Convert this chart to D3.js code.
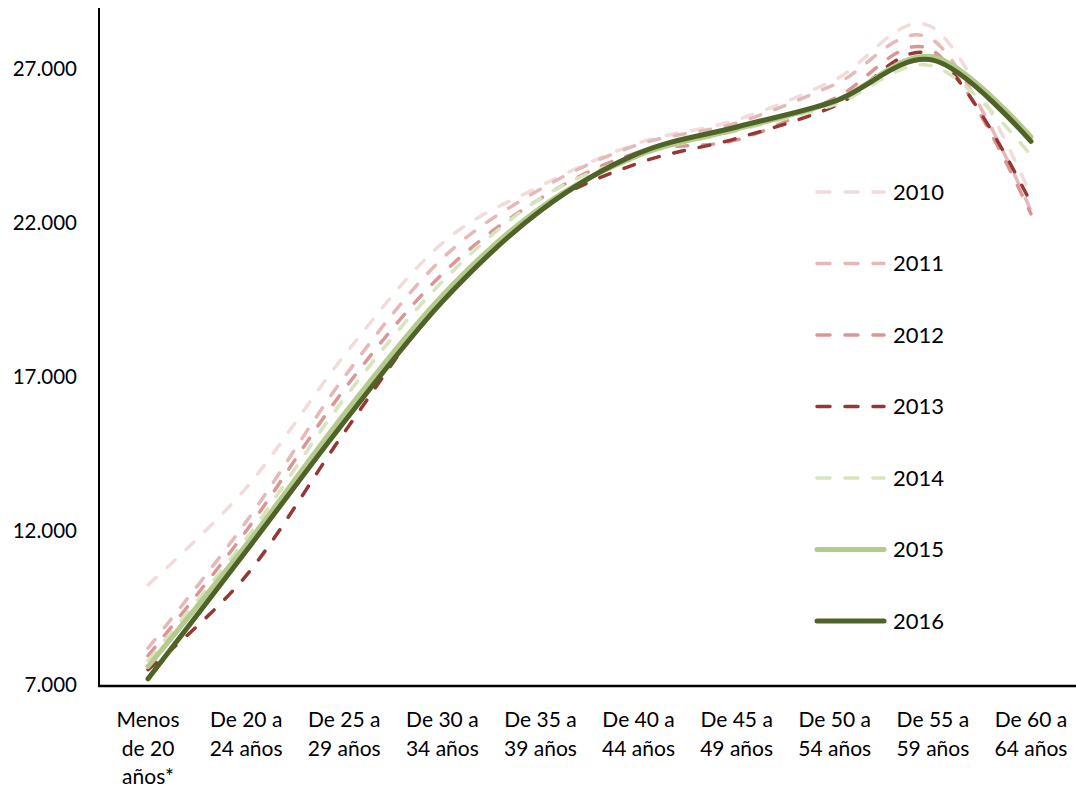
<!DOCTYPE html>
<html>
<head>
<meta charset="utf-8">
<script src="https://cdn.jsdelivr.net/npm/d3@7"></script>
<style>
  body { margin: 0; background: #fff; }
  text { font-family: Lato, "Liberation Sans", sans-serif; fill: #000; }
</style>
</head>
<body>
<div class="chart"></div>
<script>
// age groups, each label split on lines
const categories = [
  ["Menos", "de 20", "años*"],
  ["De 20 a", "24 años"],
  ["De 25 a", "29 años"],
  ["De 30 a", "34 años"],
  ["De 35 a", "39 años"],
  ["De 40 a", "44 años"],
  ["De 45 a", "49 años"],
  ["De 50 a", "54 años"],
  ["De 55 a", "59 años"],
  ["De 60 a", "64 años"]
];

const years = ["2010", "2011", "2012", "2013", "2014", "2015", "2016"];

const v2010 = [10250, 13400, 17700, 21350, 23200, 24600, 25350, 26650, 28350, 22900];
const v2011 = [8200, 12300, 17000, 20850, 23100, 24550, 25250, 26500, 27950, 22400];
const v2012 = [7950, 12000, 16600, 20350, 22800, 24300, 24700, 26050, 27600, 22300];
const v2013 = [7500, 10550, 15200, 19550, 22450, 23950, 24750, 25800, 27450, 22650];
const v2014 = [7800, 11750, 16300, 20100, 22800, 24200, 25000, 25850, 27100, 24200];
const v2015 = [7600, 11550, 15800, 19650, 22500, 24200, 25050, 25950, 27400, 24800];
const v2016 = [7200, 11350, 15550, 19450, 22400, 24270, 25120, 25960, 27290, 24650];

const yTicks = [7000, 12000, 17000, 22000, 27000];

const series = [v2010, v2011, v2012, v2013, v2014, v2015, v2016];
const colors = ["#f2dcdb", "#e6b9b8", "#d99694", "#953735", "#d7e4bd", "#b5cb8e", "#4f6228"];
const dashed = [true, true, true, true, true, false, false];

var width = 1076, height = 789;
var svg = d3.select(".chart").append("svg")
  .attr("width", width)
  .attr("height", height);

var x = d3.scaleBand()
  .domain(d3.range(categories.length))
  .range([99, 1080]);

var y = d3.scaleLinear()
  .domain([7000, 29000])
  .range([685, 7.5]);

var loc = d3.formatLocale({decimal: ",", thousands: ".", grouping: [3], currency: ["", "€"]});
var fmt = loc.format(",d");

// y axis labels
svg.append("g")
  .selectAll("text")
  .data(yTicks)
  .enter().append("text")
  .attr("x", 77)
  .attr("y", d => y(d))
  .attr("dy", "0.35em")
  .attr("text-anchor", "end")
  .style("font-size", "20.5px")
  .text(d => fmt(d));

// x labels
var xl = svg.append("g").selectAll("text")
  .data(categories)
  .enter().append("text")
  .attr("text-anchor", "middle")
  .style("font-size", "21px");
xl.each(function(lines, i) {
  d3.select(this).selectAll("tspan")
    .data(lines)
    .enter().append("tspan")
    .attr("x", x(i) + x.bandwidth() / 2)
    .attr("y", (d, j) => 727 + j * 28.5)
    .text(d => d);
});

var line = d3.line()
  .x((d, i) => x(i) + x.bandwidth() / 2)
  .y(d => y(d))
  .curve(d3.curveCatmullRom.alpha(0));

svg.append("g")
  .selectAll("path")
  .data(series)
  .enter().append("path")
  .attr("d", line)
  .attr("fill", "none")
  .attr("stroke", (d, i) => colors[i])
  .attr("stroke-width", (d, i) => dashed[i] ? 3.5 : 5)
  .attr("stroke-linecap", "round")
  .attr("stroke-dasharray", (d, i) => dashed[i] ? "11,15" : null);

// axes lines
svg.append("line")
  .attr("x1", 99).attr("x2", 99)
  .attr("y1", 8).attr("y2", 686)
  .attr("stroke", "#000").attr("stroke-width", 2);
svg.append("line")
  .attr("x1", 98).attr("x2", width)
  .attr("y1", 686).attr("y2", 686)
  .attr("stroke", "#000").attr("stroke-width", 2.5);

// legend
var lg = svg.append("g").selectAll("g")
  .data(years)
  .enter().append("g")
  .attr("transform", (d, i) => "translate(0," + (192 + i * 71.5) + ")");
lg.append("line")
  .attr("x1", 817).attr("x2", 884)
  .attr("stroke", (d, i) => colors[i])
  .attr("stroke-width", (d, i) => dashed[i] ? 3.5 : 5)
  .attr("stroke-linecap", "round")
  .attr("stroke-dasharray", (d, i) => dashed[i] ? "13,15" : null);
lg.append("text")
  .attr("x", 893)
  .attr("dy", "0.35em")
  .style("font-size", "22px")
  .text(d => d);
</script>
</body>
</html>
